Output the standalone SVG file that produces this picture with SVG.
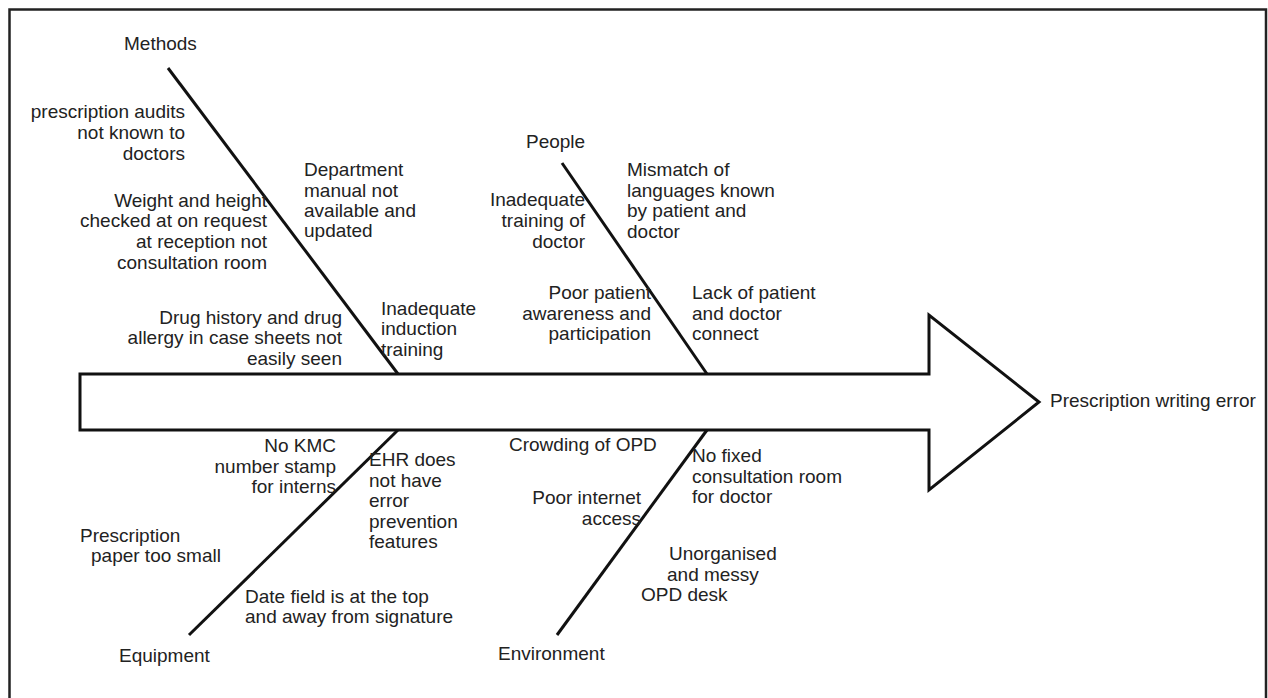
<svg xmlns="http://www.w3.org/2000/svg" width="1268" height="698" viewBox="0 0 1268 698">
<style>
text{font-family:"Liberation Sans",Arial,Helvetica,sans-serif;font-size:19px;fill:#222}
.r{text-anchor:end}
.bone{stroke:#111;stroke-width:3;fill:none;stroke-linecap:butt}
.frame{stroke:#222;stroke-width:2.5;fill:none}
.spine{stroke:#111;stroke-width:3;fill:#fff;stroke-linejoin:miter}
</style>
<rect x="0" y="0" width="1268" height="698" fill="#fff"/>
<path class="frame" d="M9.5,700 V9.5 H1266 V700"/>
<g id="spine">
<path class="spine" d="M80,374 H929 V315 L1039,402 L929,490 V430 H80 Z"/>
</g>
<g id="connectors">
<line class="bone" x1="168" y1="68" x2="398" y2="374"/>
<line class="bone" x1="562" y1="163" x2="707" y2="374"/>
<line class="bone" x1="398" y1="430" x2="189" y2="635"/>
<line class="bone" x1="707" y1="430" x2="557" y2="635"/>
</g>
<g id="effect">
<text x="1050" y="407">Prescription writing error</text>
</g>
<g id="methods">
<text x="124" y="50">Methods</text>
<text class="r" x="185" y="118">prescription audits</text>
<text class="r" x="185" y="139">not known to</text>
<text class="r" x="185" y="160">doctors</text>
<text class="r" x="267" y="207">Weight and height</text>
<text class="r" x="267" y="227">checked at on request</text>
<text class="r" x="267" y="248">at reception not</text>
<text class="r" x="267" y="269">consultation room</text>
<text x="304" y="176">Department</text>
<text x="304" y="197">manual not</text>
<text x="304" y="217">available and</text>
<text x="304" y="237">updated</text>
<text class="r" x="342" y="324">Drug history and drug</text>
<text class="r" x="342" y="344">allergy in case sheets not</text>
<text class="r" x="342" y="365">easily seen</text>
<text x="381" y="315">Inadequate</text>
<text x="381" y="335">induction</text>
<text x="381" y="356">training</text>
</g>
<g id="people">
<text x="526" y="148">People</text>
<text class="r" x="585" y="206">Inadequate</text>
<text class="r" x="585" y="227">training of</text>
<text class="r" x="585" y="248">doctor</text>
<text x="627" y="176">Mismatch of</text>
<text x="627" y="197">languages known</text>
<text x="627" y="217">by patient and</text>
<text x="627" y="238">doctor</text>
<text class="r" x="651" y="299">Poor patient</text>
<text class="r" x="651" y="320">awareness and</text>
<text class="r" x="651" y="340">participation</text>
<text x="692" y="299">Lack of patient</text>
<text x="692" y="320">and doctor</text>
<text x="692" y="340">connect</text>
</g>
<g id="equipment">
<text x="119" y="662">Equipment</text>
<text class="r" x="336" y="452">No KMC</text>
<text class="r" x="336" y="473">number stamp</text>
<text class="r" x="336" y="493">for interns</text>
<text x="369" y="466">EHR does</text>
<text x="369" y="487">not have</text>
<text x="369" y="507">error</text>
<text x="369" y="528">prevention</text>
<text x="369" y="548">features</text>
<text x="80" y="542">Prescription</text>
<text x="91" y="562">paper too small</text>
<text x="245" y="603">Date field is at the top</text>
<text x="245" y="623">and away from signature</text>
</g>
<g id="environment">
<text x="498" y="660">Environment</text>
<text x="509" y="451">Crowding of OPD</text>
<text x="692" y="462">No fixed</text>
<text x="692" y="483">consultation room</text>
<text x="692" y="503">for doctor</text>
<text class="r" x="641" y="504">Poor internet</text>
<text class="r" x="641" y="525">access</text>
<text x="669" y="560">Unorganised</text>
<text x="667" y="581">and messy</text>
<text x="641" y="601">OPD desk</text>
</g>
</svg>
